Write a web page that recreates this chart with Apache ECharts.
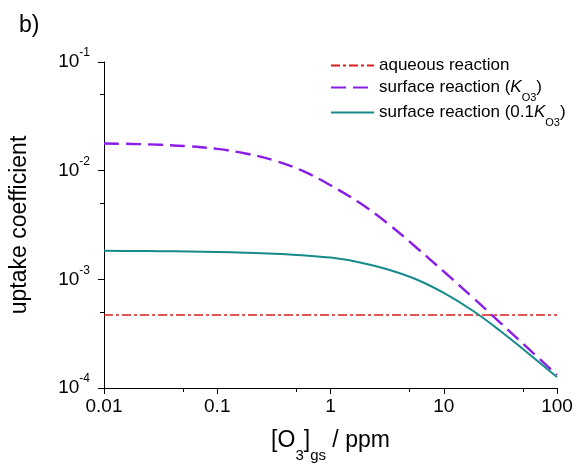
<!DOCTYPE html>
<html>
<head>
<meta charset="utf-8">
<script src="https://cdn.jsdelivr.net/npm/echarts@6/dist/echarts.min.js"></script>
<style>
  html, body { margin: 0; padding: 0; background: #fff; }
  #chart { width: 578px; height: 468px; }
</style>
</head>
<body>
<div id="chart"></div>
<script>
// [O3]gs in ppm
const ozone = [0.01, 0.0178, 0.0316, 0.0562, 0.1, 0.178, 0.316, 0.562, 1, 1.78, 3.16, 5.62, 10, 17.8, 31.6, 56.2, 100];
const surfaceK = [0.01778, 0.01762, 0.0173, 0.01675, 0.01585, 0.01439, 0.01245, 0.0100, 0.00733, 0.00511, 0.0033, 0.001995, 0.00118, 0.000689, 0.000398, 0.000229, 0.000132];
const surfaceTenth = [0.001828, 0.001824, 0.001816, 0.001803, 0.001782, 0.001758, 0.001722, 0.001667, 0.001585, 0.001439, 0.001239, 0.001007, 0.00075, 0.000519, 0.000335, 0.000207, 0.000126];
const aqueousX = [0.01, 100];
const aqueous = [0.00047, 0.00047];

const xTicks = [0.01, 0.1, 1, 10, 100];
const xTickLabels = ["0.01", "0.1", "1", "10", "100"];
const xMinor = [0.05, 0.5, 5, 50];
const yTicks = [0.0001, 0.001, 0.01, 0.1];
const yExponents = ["-4", "-3", "-2", "-1"];
const yMinor = [0.0005, 0.005, 0.05];

const font = "Liberation Sans";
const pair = (xs, ys) => xs.map((x, i) => [x, ys[i]]);
const tickIndex = (ticks, v) => ticks.findIndex(t => Math.abs(Math.log10(t) - Math.log10(v)) < 1e-6);

const chart = echarts.init(document.getElementById("chart"));

const legendNames = {
  "aqueous reaction": "{t|aqueous reaction}",
  "surface reaction (K)": "{t|surface reaction (}{k|K}{s|O3}{t|)}",
  "surface reaction (0.1K)": "{t|surface reaction (0.1}{k|K}{s|O3}{t|)}"
};

// one legend box per entry so the rows sit where the reference has them
const legendBox = (name, top) => ({
  left: 325,
  top: top,
  itemWidth: 43,
  itemHeight: 14,
  data: [name],
  formatter: n => legendNames[n],
  itemStyle: {opacity: 0},
  textStyle: {
    fontFamily: font,
    color: "#000",
    rich: {
      t: {fontFamily: font, fontSize: 17, color: "#000", lineHeight: 20},
      k: {fontFamily: font, fontSize: 17, fontStyle: "italic", color: "#000", lineHeight: 20},
      s: {fontFamily: font, fontSize: 11, color: "#000", verticalAlign: "bottom", lineHeight: 10, padding: [0, 0, -6, 0]}
    }
  }
});

const option = {
  animation: false,
  title: {
    text: "b)",
    left: 14,
    top: 9,
    textStyle: {fontFamily: font, fontSize: 23, fontWeight: "normal", color: "#000"}
  },
  legend: [
    legendBox("aqueous reaction", 52),
    legendBox("surface reaction (K)", 74),
    legendBox("surface reaction (0.1K)", 99)
  ],
  grid: {left: 103, right: 21, top: 62, bottom: 70},
  xAxis: [
    {
      type: "log",
      logBase: 10,
      min: 0.01,
      max: 100,
      position: "bottom",
      name: "{t|[O}{s|3}{t|]}{s|gs}{t| / ppm}",
      nameLocation: "middle",
      nameGap: 40,
      nameTextStyle: {
        rich: {
          t: {fontFamily: font, fontSize: 23, color: "#000", lineHeight: 26},
          s: {fontFamily: font, fontSize: 15, color: "#000", verticalAlign: "bottom", lineHeight: 14, padding: [0, 0, -9, 0]}
        }
      },
      axisLine: {lineStyle: {color: "#000", width: 1}},
      axisTick: {customValues: xTicks, length: 6, lineStyle: {color: "#000"}},
      axisLabel: {
        customValues: xTicks,
        margin: 9,
        fontFamily: font,
        fontSize: 19,
        color: "#000",
        formatter: v => xTickLabels[tickIndex(xTicks, v)]
      },
      splitLine: {show: false}
    },
    {
      type: "log",
      logBase: 10,
      min: 0.01,
      max: 100,
      position: "bottom",
      axisLine: {show: false},
      axisTick: {customValues: xMinor, length: 4, lineStyle: {color: "#000"}},
      axisLabel: {show: false},
      splitLine: {show: false}
    }
  ],
  yAxis: [
    {
      type: "log",
      logBase: 10,
      min: 0.0001,
      max: 0.1,
      position: "left",
      name: "uptake coefficient",
      nameLocation: "middle",
      nameGap: 73,
      nameTextStyle: {fontFamily: font, fontSize: 23, color: "#000"},
      axisLine: {show: true, lineStyle: {color: "#000", width: 1}},
      axisTick: {show: true, customValues: yTicks, length: 6, lineStyle: {color: "#000"}},
      axisLabel: {
        customValues: yTicks,
        margin: 14,
        formatter: v => "{b|10}{e|" + yExponents[tickIndex(yTicks, v)] + "}",
        rich: {
          b: {fontFamily: font, fontSize: 19, color: "#000", lineHeight: 22},
          e: {fontFamily: font, fontSize: 12, color: "#000", verticalAlign: "top", lineHeight: 12, padding: [-4, 0, 0, 0]}
        }
      },
      splitLine: {show: false}
    },
    {
      type: "log",
      logBase: 10,
      min: 0.0001,
      max: 0.1,
      position: "left",
      axisLine: {show: false},
      axisTick: {show: true, customValues: yMinor, length: 4, lineStyle: {color: "#000"}},
      axisLabel: {show: false},
      splitLine: {show: false}
    }
  ],
  series: [
    {
      name: "aqueous reaction",
      type: "line",
      symbol: "none",
      data: pair(aqueousX, aqueous),
      lineStyle: {color: "#d81e1e", width: 1.6, type: [9, 3, 3, 3]},
      itemStyle: {color: "#d81e1e"}
    },
    {
      name: "surface reaction (K)",
      type: "line",
      symbol: "none",
      smooth: 0.4,
      data: pair(ozone, surfaceK),
      lineStyle: {color: "#8a1de6", width: 2.4, type: [15, 7]},
      itemStyle: {color: "#8a1de6"}
    },
    {
      name: "surface reaction (0.1K)",
      type: "line",
      symbol: "none",
      smooth: 0.4,
      data: pair(ozone, surfaceTenth),
      lineStyle: {color: "#168a8a", width: 2},
      itemStyle: {color: "#168a8a"}
    }
  ]
};

chart.setOption(option);
</script>
</body>
</html>
